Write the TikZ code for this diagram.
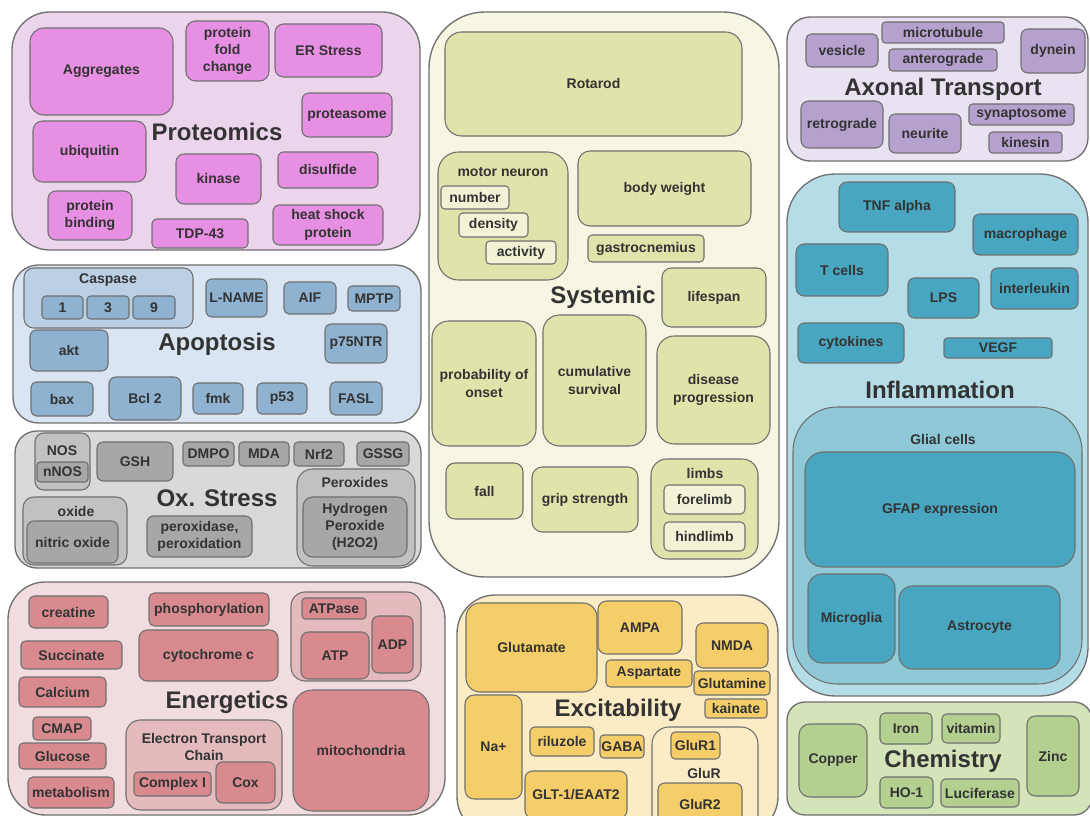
\documentclass[tikz,border=0pt]{standalone}
\usepackage{fontspec}
\setmainfont{Liberation Sans}

\definecolor{edgec}{RGB}{112,112,112}
\definecolor{txtc}{RGB}{51,51,51}
\definecolor{proOut}{RGB}{236,213,236}
\definecolor{proIn}{RGB}{231,143,226}
\definecolor{sysOut}{RGB}{246,246,226}
\definecolor{sysIn}{RGB}{225,228,170}
\definecolor{sysSub}{RGB}{242,243,214}
\definecolor{axOut}{RGB}{233,226,240}
\definecolor{axIn}{RGB}{180,161,205}
\definecolor{apoOut}{RGB}{217,229,242}
\definecolor{apoGrp}{RGB}{187,207,229}
\definecolor{apoIn}{RGB}{143,178,208}
\definecolor{oxOut}{RGB}{217,217,217}
\definecolor{oxGrp}{RGB}{193,193,193}
\definecolor{oxIn}{RGB}{167,167,167}
\definecolor{infOut}{RGB}{181,221,231}
\definecolor{infGrp}{RGB}{143,201,216}
\definecolor{infIn}{RGB}{72,166,192}
\definecolor{enOut}{RGB}{241,221,223}
\definecolor{enGrp}{RGB}{229,186,189}
\definecolor{enIn}{RGB}{216,138,142}
\definecolor{exOut}{RGB}{251,236,197}
\definecolor{exIn}{RGB}{246,206,105}
\definecolor{chOut}{RGB}{212,228,185}
\definecolor{chIn}{RGB}{179,208,145}

\newcommand\lblfont{\bfseries\fontsize{10.5}{13}\selectfont}
\newcommand\ttlfont{\bfseries\fontsize{18}{20}\selectfont}

\begin{document}
\begin{tikzpicture}[x=0.75pt,y=-0.75pt,
    spot/.style n args={4}{at={({(#1+#3)/2},{(#2+#4)/2})},
      minimum width={(#3-#1)*0.75pt},minimum height={(#4-#2)*0.75pt},
      rounded corners={0.16*min(#3-#1,#4-#2)*0.75pt}},
    area/.style={draw=edgec,line width=1pt,inner sep=0pt},
    grp/.style={draw=edgec,line width=0.8pt,inner sep=0pt},
    tag/.style={draw=edgec,line width=0.8pt,inner sep=0pt,align=center,text=txtc,font=\lblfont},
    hdr/.style={text=txtc,font=\lblfont,align=center,inner sep=0pt},
    heading/.style={text=txtc,font=\ttlfont,inner sep=0pt}]

  \fill[white] (0,0) rectangle (1090,816);
  \path[use as bounding box] (0,0) rectangle (1090,816);
  \clip (0,0) rectangle (1090,816);

  % Proteomics
  \node[area,fill=proOut,spot={12}{12}{420}{250}] (proteomics) {};
  \node[heading] (proT) at (217,132) {Proteomics};
  \node[tag,fill=proIn,spot={30}{28}{173}{115}] (aggr) {Aggregates};
  \node[tag,fill=proIn,spot={186}{21}{269}{81}] (fold) {protein\\fold\\change};
  \node[tag,fill=proIn,spot={275}{24}{382}{77}] (er) {ER Stress};
  \node[tag,fill=proIn,spot={302}{93}{392}{137}] (proteas) {proteasome};
  \node[tag,fill=proIn,spot={33}{121}{146}{182}] (ubiq) {ubiquitin};
  \node[tag,fill=proIn,spot={176}{154}{261}{204}] (kinase) {kinase};
  \node[tag,fill=proIn,spot={278}{152}{378}{188}] (disulf) {disulfide};
  \node[tag,fill=proIn,spot={48}{191}{132}{240}] (binding) {protein\\binding};
  \node[tag,fill=proIn,spot={152}{219}{248}{248}] (tdp) {TDP-43};
  \node[tag,fill=proIn,spot={273}{205}{383}{245}] (hsp) {heat shock\\protein};

  % Systemic
  \node[area,fill=sysOut,spot={429}{12}{779}{577}] (systemic) {};
  \node[heading] (sysT) at (603,297) {Systemic};
  \node[tag,fill=sysIn,spot={445}{32}{742}{136}] (rotarod) {Rotarod};
  \node[grp,fill=sysIn,spot={438}{152}{568}{280}] (motor) {};
  \node[hdr] (motorT) at (503,172) {motor neuron};
  \node[tag,fill=sysSub,spot={441}{186}{509}{209}] (number) {number};
  \node[tag,fill=sysSub,spot={459}{213}{528}{237}] (density) {density};
  \node[tag,fill=sysSub,spot={486}{241}{556}{264}] (activity) {activity};
  \node[tag,fill=sysIn,spot={578}{151}{751}{226}] (weight) {body weight};
  \node[tag,fill=sysIn,spot={588}{235}{704}{262}] (gastro) {gastrocnemius};
  \node[tag,fill=sysIn,spot={662}{268}{766}{327}] (lifespan) {lifespan};
  \node[tag,fill=sysIn,spot={432}{321}{536}{446}] (onset) {probability of\\onset};
  \node[tag,fill=sysIn,spot={543}{315}{646}{446}] (survival) {cumulative\\survival};
  \node[tag,fill=sysIn,spot={657}{336}{770}{444}] (progress) {disease\\progression};
  \node[tag,fill=sysIn,spot={446}{463}{523}{519}] (fall) {fall};
  \node[tag,fill=sysIn,spot={532}{467}{638}{532}] (grip) {grip strength};
  \node[grp,fill=sysIn,spot={651}{459}{758}{559}] (limbs) {};
  \node[hdr] (limbsT) at (705,473) {limbs};
  \node[tag,fill=sysSub,spot={664}{485}{745}{514}] (fore) {forelimb};
  \node[tag,fill=sysSub,spot={664}{522}{745}{551}] (hind) {hindlimb};

  % Axonal Transport
  \node[area,fill=axOut,spot={787}{17}{1088}{161}] (axonal) {};
  \node[heading] (axT) at (943,89) {Axonal Transport};
  \node[tag,fill=axIn,spot={806}{34}{878}{67}] (vesicle) {vesicle};
  \node[tag,fill=axIn,spot={882}{22}{1004}{43}] (microt) {microtubule};
  \node[tag,fill=axIn,spot={889}{49}{997}{71}] (antero) {anterograde};
  \node[tag,fill=axIn,spot={1021}{29}{1085}{73}] (dynein) {dynein};
  \node[tag,fill=axIn,spot={801}{101}{883}{148}] (retro) {retrograde};
  \node[tag,fill=axIn,spot={889}{114}{961}{153}] (neurite) {neurite};
  \node[tag,fill=axIn,spot={969}{104}{1074}{125}] (synapt) {synaptosome};
  \node[tag,fill=axIn,spot={989}{132}{1062}{153}] (kinesin) {kinesin};

  % Inflammation
  \node[area,fill=infOut,spot={787}{174}{1088}{696}] (inflam) {};
  \node[heading] (infT) at (940,390) {Inflammation};
  \node[tag,fill=infIn,spot={839}{182}{955}{232}] (tnf) {TNF alpha};
  \node[tag,fill=infIn,spot={973}{214}{1078}{255}] (macro) {macrophage};
  \node[tag,fill=infIn,spot={796}{244}{888}{296}] (tcells) {T cells};
  \node[tag,fill=infIn,spot={908}{278}{979}{318}] (lps) {LPS};
  \node[tag,fill=infIn,spot={991}{268}{1078}{309}] (interl) {interleukin};
  \node[tag,fill=infIn,spot={798}{323}{904}{363}] (cytok) {cytokines};
  \node[tag,fill=infIn,spot={944}{338}{1052}{358}] (vegf) {VEGF};
  \node[grp,fill=infGrp,spot={793}{407}{1082}{684}] (glial) {};
  \node[hdr] (glialT) at (943,439) {Glial cells};
  \node[tag,fill=infIn,spot={805}{452}{1075}{567}] (gfap) {GFAP expression};
  \node[tag,fill=infIn,spot={808}{574}{895}{663}] (microg) {Microglia};
  \node[tag,fill=infIn,spot={899}{586}{1060}{669}] (astro) {Astrocyte};

  % Apoptosis
  \node[area,fill=apoOut,spot={13}{265}{421}{423}] (apopt) {};
  \node[heading] (apoT) at (217,344) {Apoptosis};
  \node[grp,fill=apoGrp,spot={24}{268}{193}{328}] (caspase) {};
  \node[hdr] (caspT) at (108,280) {Caspase};
  \node[tag,fill=apoIn,spot={42}{296}{83}{319}] (casp1) {1};
  \node[tag,fill=apoIn,spot={87}{296}{129}{319}] (casp3) {3};
  \node[tag,fill=apoIn,spot={133}{296}{175}{319}] (casp9) {9};
  \node[tag,fill=apoIn,spot={206}{279}{267}{317}] (lname) {L-NAME};
  \node[tag,fill=apoIn,spot={284}{282}{336}{314}] (aif) {AIF};
  \node[tag,fill=apoIn,spot={348}{286}{400}{311}] (mptp) {MPTP};
  \node[tag,fill=apoIn,spot={30}{330}{108}{371}] (akt) {akt};
  \node[tag,fill=apoIn,spot={325}{324}{387}{363}] (p75) {p75NTR};
  \node[tag,fill=apoIn,spot={31}{382}{93}{416}] (bax) {bax};
  \node[tag,fill=apoIn,spot={109}{377}{181}{420}] (bcl) {Bcl 2};
  \node[tag,fill=apoIn,spot={193}{383}{243}{414}] (fmk) {fmk};
  \node[tag,fill=apoIn,spot={257}{383}{307}{414}] (p53) {p53};
  \node[tag,fill=apoIn,spot={330}{382}{382}{415}] (fasl) {FASL};

  % Ox. Stress
  \node[area,fill=oxOut,spot={15}{431}{421}{568}] (oxid) {};
  \node[heading] (oxT) at (217,498) {Ox. Stress};
  \node[grp,fill=oxGrp,spot={35}{433}{90}{490}] (nos) {};
  \node[hdr] (nosT) at (62,451) {NOS};
  \node[tag,fill=oxIn,spot={37}{462}{88}{482}] (nnos) {nNOS};
  \node[tag,fill=oxIn,spot={97}{442}{173}{481}] (gsh) {GSH};
  \node[tag,fill=oxIn,spot={183}{442}{234}{466}] (dmpo) {DMPO};
  \node[tag,fill=oxIn,spot={239}{442}{289}{466}] (mda) {MDA};
  \node[tag,fill=oxIn,spot={294}{442}{344}{466}] (nrf) {Nrf2};
  \node[tag,fill=oxIn,spot={357}{442}{409}{466}] (gssg) {GSSG};
  \node[grp,fill=oxGrp,spot={23}{497}{127}{565}] (oxide) {};
  \node[hdr] (oxideT) at (76,511) {oxide};
  \node[tag,fill=oxIn,spot={27}{521}{118}{563}] (nitric) {nitric oxide};
  \node[tag,fill=oxIn,spot={147}{516}{252}{557}] (perox) {peroxidase,\\peroxidation};
  \node[grp,fill=oxGrp,spot={297}{469}{415}{566}] (peroxides) {};
  \node[hdr] (peroxT) at (355,482) {Peroxides};
  \node[tag,fill=oxIn,spot={303}{497}{407}{557}] (hydro) {Hydrogen\\Peroxide\\(H2O2)};

  % Energetics
  \node[area,fill=enOut,spot={8}{582}{445}{815}] (energy) {};
  \node[heading] (enT) at (227,702) {Energetics};
  \node[tag,fill=enIn,spot={29}{596}{108}{628}] (creat) {creatine};
  \node[tag,fill=enIn,spot={149}{593}{269}{626}] (phos) {phosphorylation};
  \node[grp,fill=enGrp,spot={291}{592}{421}{681}] (atpgrp) {};
  \node[tag,fill=enIn,spot={302}{598}{366}{619}] (atpase) {ATPase};
  \node[tag,fill=enIn,spot={372}{616}{413}{673}] (adp) {ADP};
  \node[tag,fill=enIn,spot={301}{632}{369}{679}] (atp) {ATP};
  \node[tag,fill=enIn,spot={21}{641}{122}{669}] (succ) {Succinate};
  \node[tag,fill=enIn,spot={139}{630}{278}{681}] (cyto) {cytochrome c};
  \node[tag,fill=enIn,spot={19}{677}{106}{707}] (calc) {Calcium};
  \node[tag,fill=enIn,spot={33}{717}{91}{740}] (cmap) {CMAP};
  \node[tag,fill=enIn,spot={19}{743}{106}{769}] (gluc) {Glucose};
  \node[tag,fill=enIn,spot={28}{777}{114}{808}] (metab) {metabolism};
  \node[grp,fill=enGrp,spot={126}{720}{282}{810}] (etc) {};
  \node[hdr] (etcT) at (204,747) {Electron Transport\\Chain};
  \node[tag,fill=enIn,spot={134}{772}{211}{796}] (cplx) {Complex I};
  \node[tag,fill=enIn,spot={216}{762}{275}{803}] (cox) {Cox};
  \node[tag,fill=enIn,spot={293}{690}{429}{811}] (mito) {mitochondria};

  % Excitability
  \node[area,fill=exOut,spot={457}{595}{778}{835}] (excit) {};
  \node[heading] (exT) at (618,710) {Excitability};
  \node[tag,fill=exIn,spot={466}{603}{597}{692}] (glut) {Glutamate};
  \node[tag,fill=exIn,spot={598}{601}{682}{654}] (ampa) {AMPA};
  \node[tag,fill=exIn,spot={696}{623}{768}{668}] (nmda) {NMDA};
  \node[tag,fill=exIn,spot={606}{660}{692}{687}] (aspart) {Aspartate};
  \node[tag,fill=exIn,spot={694}{671}{770}{695}] (glutam) {Glutamine};
  \node[tag,fill=exIn,spot={705}{699}{767}{718}] (kain) {kainate};
  \node[tag,fill=exIn,spot={465}{695}{522}{799}] (sodium) {Na+};
  \node[tag,fill=exIn,spot={530}{727}{594}{756}] (rilu) {riluzole};
  \node[tag,fill=exIn,spot={600}{735}{644}{758}] (gaba) {GABA};
  \node[grp,fill=exOut,spot={652}{727}{758}{835}] (glur) {};
  \node[tag,fill=exIn,spot={671}{732}{720}{759}] (glur1) {GluR1};
  \node[hdr] (glurT) at (704,773) {GluR};
  \node[tag,fill=exIn,spot={658}{783}{742}{825}] (glur2) {GluR2};
  \node[tag,fill=exIn,spot={525}{771}{627}{818}] (glt) {GLT-1/EAAT2};

  % Chemistry
  \node[area,fill=chOut,spot={787}{702}{1092}{815}] (chem) {};
  \node[heading] (chT) at (943,761) {Chemistry};
  \node[tag,fill=chIn,spot={799}{724}{867}{797}] (copper) {Copper};
  \node[tag,fill=chIn,spot={880}{713}{932}{744}] (iron) {Iron};
  \node[tag,fill=chIn,spot={942}{714}{1000}{743}] (vitamin) {vitamin};
  \node[tag,fill=chIn,spot={1027}{716}{1079}{796}] (zinc) {Zinc};
  \node[tag,fill=chIn,spot={880}{777}{933}{808}] (ho) {HO-1};
  \node[tag,fill=chIn,spot={941}{779}{1019}{807}] (lucif) {Luciferase};
\end{tikzpicture}
\end{document}
